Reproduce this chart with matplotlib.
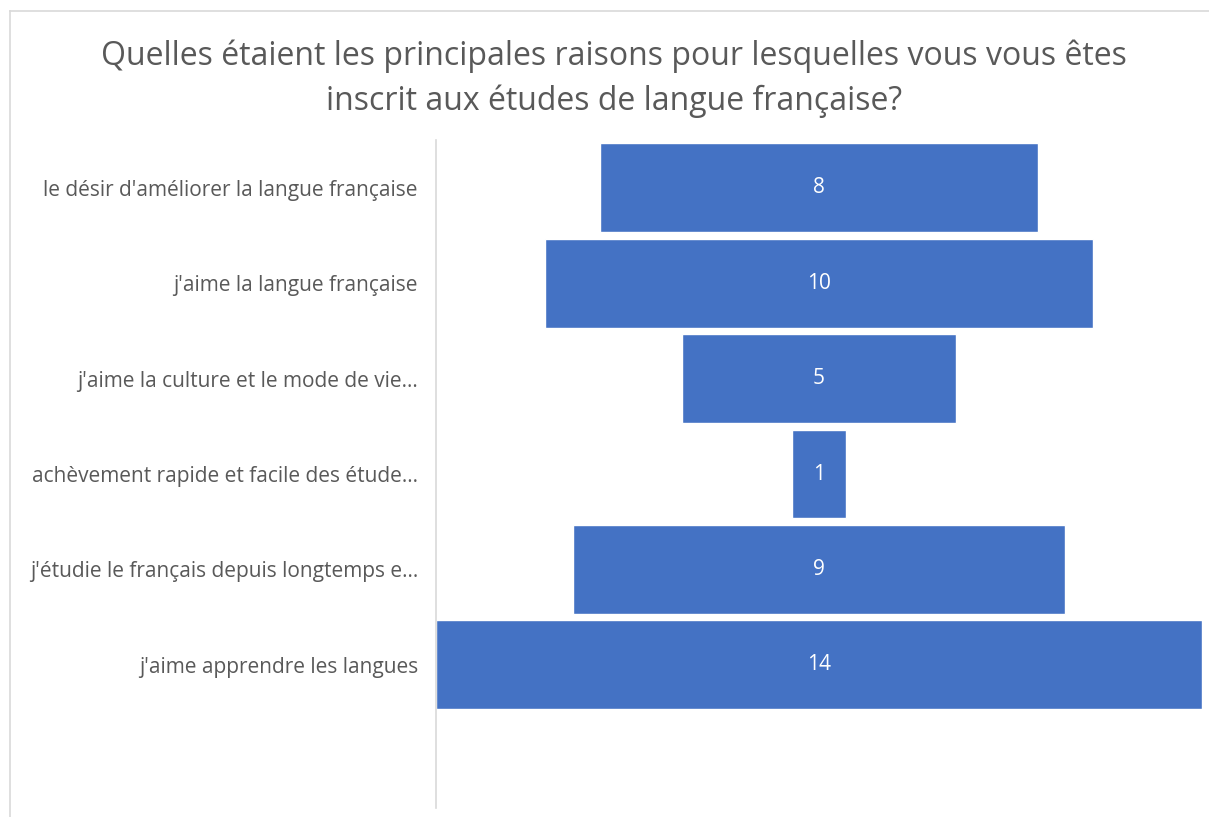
import matplotlib.pyplot as plt
from matplotlib.lines import Line2D

categories = [
    "le désir d'améliorer la langue française",
    "j'aime la langue française",
    "j'aime la culture et le mode de vie...",
    "achèvement rapide et facile des étude...",
    "j'étudie le français depuis longtemps e...",
    "j'aime apprendre les langues",
]
values = [8, 10, 5, 1, 9, 14]

title = ("Quelles étaient les principales raisons pour lesquelles vous vous êtes\n"
         "inscrit aux études de langue française?")

plt.rcParams["font.family"] = ["Open Sans", "DejaVu Sans"]
text_color = "#595959"
bar_color = "#4472C4"

W, H = 1209, 817
fig = plt.figure(figsize=(W / 100, H / 100), dpi=100)

# chart frame (screenshot is cropped at right and bottom)
fig.add_artist(Line2D([10 / W, 1], [1 - 11 / H, 1 - 11 / H], color="#D9D9D9", lw=1.2))
fig.add_artist(Line2D([10 / W, 10 / W], [0, 1 - 11 / H], color="#D9D9D9", lw=1.2))

fig.text(614 / W, 1 - 79 / H, title, ha="center", va="center", fontsize=23,
         color=text_color, linespacing=1.45)

ax = fig.add_axes([436 / W, 1 - 808 / H, (1202 - 436) / W, (808 - 140) / H])
ypos = list(range(len(categories)))
ax.barh(ypos, values, left=[-v / 2 for v in values], height=0.93,
        color=bar_color, edgecolor="white", linewidth=1.0)
for y, v in zip(ypos, values):
    ax.text(0, y, str(v), ha="center", va="center", color="white", fontsize=15)

ax.set_xlim(-7, 7)
ax.set_ylim(len(categories) + 0.5, -0.5)
ax.set_yticks(ypos)
ax.set_yticklabels(categories, fontsize=15, color=text_color)
ax.tick_params(axis="y", length=0, pad=13)
ax.set_xticks([])
for s in ["top", "right", "bottom"]:
    ax.spines[s].set_visible(False)
ax.spines["left"].set_color("#D9D9D9")
ax.spines["left"].set_linewidth(1.2)
ax.set_facecolor("none")

fig.savefig("out.png", dpi=100, facecolor="white")
